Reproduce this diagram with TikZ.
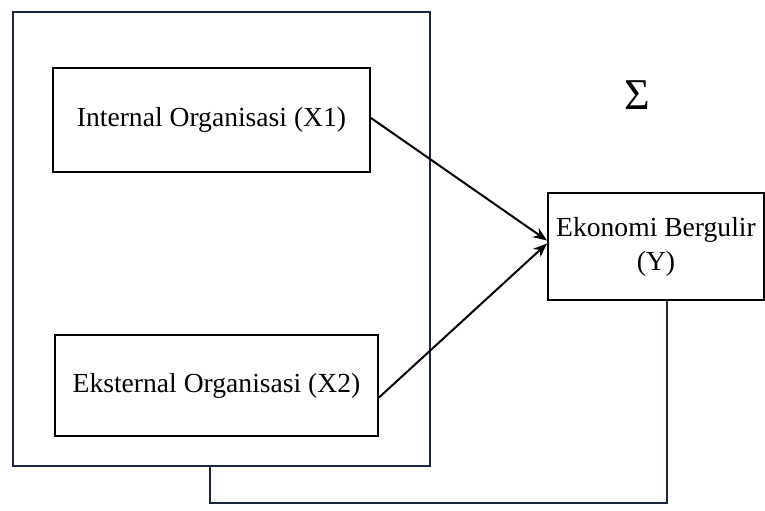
\documentclass[tikz,border=0pt]{standalone}
\usepackage{fontspec}
\setmainfont{Liberation Serif}
\usepackage{tikz}
\usetikzlibrary{arrows.meta}
\definecolor{navy}{RGB}{28,38,66}

\begin{document}
\begin{tikzpicture}[x=0.5pt, y=-0.5pt,
        varbox/.style={draw, line width=1pt, inner sep=0pt, font=\fontsize{13.8}{17}\selectfont},
        link/.style={line width=1pt, -{Stealth[length=7pt, width=5.5pt]}}]
        \useasboundingbox (0,0) rectangle (765,510);

        % boxes
        \node[draw=navy, line width=1pt, minimum width=208.5pt, minimum height=227pt] (outer) at (221.5,239) {};
        \node[varbox, minimum width=158.5pt, minimum height=52pt] (x1) at (211.5,120) {Internal Organisasi (X1)};
        \node[varbox, minimum width=161.5pt, minimum height=50.5pt] (x2) at (216.5,385.5) {Eksternal Organisasi (X2)};
        \node[varbox, minimum width=108pt, minimum height=53.5pt, align=center] (y) at (656,246.5) {Ekonomi Bergulir\\(Y)};

        % label
        \node[font=\fontsize{22}{24}\selectfont] (sigma) at (637,95) {Σ};

        % arrows
        \draw[link] ([yshift=1pt]x1.east) -- ([yshift=3pt]y.west);
        \draw[link] ([yshift=-6pt]x2.east) -- ([yshift=1.5pt]y.west);

        % feedback line
        \coordinate (fb) at (210,503);
        \draw[navy, line width=0.9pt] ([xshift=5.5pt]y.south) |- (fb) -- (fb |- outer.south);

    \end{tikzpicture}
\end{document}
